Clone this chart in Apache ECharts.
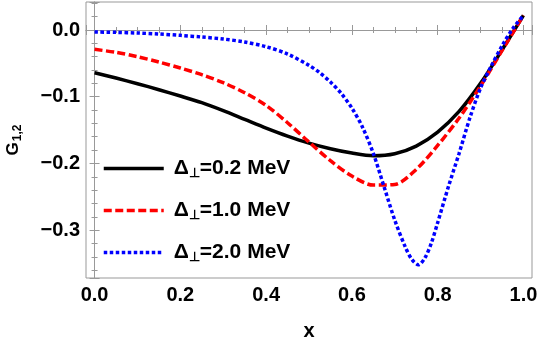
<!DOCTYPE html>
<html>
<head>
<meta charset="utf-8">
<script src="https://cdn.jsdelivr.net/npm/echarts@6/dist/echarts.min.js"></script>
<style>
  html, body { margin: 0; padding: 0; background: #fff; }
  #chart { width: 542px; height: 342px; }
</style>
</head>
<body>
<div id="chart"></div>
<script>
// x grid shared by the 0.2 and 1.0 MeV curves
const xMain = [0, 0.05, 0.1, 0.15, 0.2, 0.25, 0.3, 0.35, 0.4, 0.45, 0.5,
  0.55, 0.6, 0.65, 0.7, 0.75, 0.8, 0.85, 0.9, 0.95, 1.0];
const g02 = [-0.064, -0.072, -0.0805, -0.0895, -0.099, -0.109, -0.121, -0.134, -0.147, -0.159, -0.1695,
  -0.178, -0.1845, -0.1885, -0.1855, -0.174, -0.153, -0.122, -0.080, -0.030, 0.022];
const g10 = [-0.029, -0.0335, -0.040, -0.048, -0.057, -0.067, -0.079, -0.094, -0.113, -0.139, -0.168,
  -0.196, -0.219, -0.2325, -0.2315, -0.209, -0.173, -0.132, -0.084, -0.031, 0.022];

// finer grid for the 2.0 MeV curve (sharp dip)
const xBlue = [0, 0.05, 0.1, 0.15, 0.2, 0.25, 0.3, 0.35, 0.4, 0.45, 0.5, 0.525, 0.55, 0.575,
  0.6, 0.625, 0.65, 0.675, 0.7, 0.725, 0.74, 0.755, 0.77, 0.785, 0.8, 0.825, 0.85, 0.875,
  0.9, 0.925, 0.95, 0.975, 1.0];
const g20 = [-0.003, -0.0035, -0.0045, -0.006, -0.008, -0.0105, -0.0135, -0.018, -0.025, -0.036, -0.053, -0.064, -0.078, -0.095,
  -0.117, -0.146, -0.185, -0.235, -0.285, -0.326, -0.344, -0.352, -0.342, -0.320, -0.289, -0.235, -0.185, -0.132,
  -0.087, -0.054, -0.024, 0.002, 0.022];

const names = ['Δ⊥=0.2 MeV', 'Δ⊥=1.0 MeV', 'Δ⊥=2.0 MeV'];

const font = 'Liberation Sans, Arial, sans-serif';
const frame = '#999';

function pairs(xs, ys) { return xs.map((x, i) => [x, ys[i]]); }
function fmt(v) { return v.toFixed(1).replace('-', '\u2212'); }

function axisCommon(showLabels) {
  return {
    type: 'value',
    axisLine: { show: true, lineStyle: { color: frame, width: 1 } },
    axisTick: { show: true, inside: true, length: 5, lineStyle: { color: frame } },
    minorTick: { show: true, length: 3, lineStyle: { color: frame } },
    splitLine: { show: false },
    axisLabel: {
      show: showLabels, showMinLabel: false, showMaxLabel: false,
      color: '#000', fontFamily: font, fontWeight: 'bold', fontSize: 20,
      formatter: fmt
    }
  };
}

const xMin = -0.02, xMax = 1.02, yMin = -0.3718, yMax = 0.042;

const xAxes = [
  Object.assign(axisCommon(true), {
    min: xMin, max: xMax, position: 'bottom',
    name: 'x', nameLocation: 'middle', nameGap: 43,
    nameTextStyle: { color: '#000', fontFamily: font, fontWeight: 'bold', fontSize: 20 }
  }),
  Object.assign(axisCommon(false), { min: xMin, max: xMax, position: 'top' })
];
xAxes[0].axisLabel.margin = 7;
xAxes[0].minorTick.splitNumber = 4;
xAxes[1].minorTick.splitNumber = 4;

const yAxes = [
  Object.assign(axisCommon(true), {
    min: yMin, max: yMax, position: 'left',
    name: '{g|G}{s|1,2}', nameLocation: 'middle', nameGap: 62, nameRotate: 90,
    nameTextStyle: {
      color: '#000', fontFamily: font,
      rich: {
        g: { fontSize: 17, fontFamily: font, fontWeight: 'bold', color: '#000' },
        s: { fontSize: 12, fontFamily: font, fontWeight: 'bold', color: '#000', padding: [9, 0, 0, 1] }
      }
    }
  }),
  Object.assign(axisCommon(false), { min: yMin, max: yMax, position: 'right' })
];
yAxes[0].axisLabel.margin = 6;
yAxes[0].minorTick.splitNumber = 5;
yAxes[1].minorTick.splitNumber = 5;

const styles = [
  { color: '#000000', width: 3.5, type: 'solid' },
  { color: '#ff0000', width: 3.5, type: [8, 3.5] },
  { color: '#0000ff', width: 3.5, type: [3.5, 2.5] }
];
const datas = [pairs(xMain, g02), pairs(xMain, g10), pairs(xBlue, g20)];

const chart = echarts.init(document.getElementById('chart'));
chart.setOption({
  animation: false,
  grid: {
    left: 86, top: 2, right: 10, bottom: 64,
    outerBoundsMode: 'none', containLabel: false,
    show: true, borderColor: frame, borderWidth: 1
  },
  xAxis: xAxes,
  yAxis: yAxes,
  legend: {
    orient: 'vertical', left: 102, top: 158, padding: 0,
    itemWidth: 60, itemHeight: 20, itemGap: 20,
    itemStyle: { opacity: 0 },
    lineStyle: { width: 3.5 },
    formatter: n => '{d|Δ}{s|⊥}{e|' + n.slice(2) + '}',
    textStyle: {
      color: '#000', fontFamily: font, fontWeight: 'bold', fontSize: 21,
      rich: {
        d: { fontSize: 21, fontWeight: 'bold', fontFamily: font, padding: [0, 0, 0, 5] },
        s: { fontSize: 13, fontWeight: 'bold', fontFamily: font, padding: [10, 0, 0, 0] },
        e: { fontSize: 21, fontWeight: 'bold', fontFamily: font }
      }
    },
    data: names
  },
  series: datas.map((d, i) => ({
    name: names[i],
    type: 'line',
    data: d,
    smooth: 0.3,
    symbol: 'none',
    lineStyle: styles[i],
    itemStyle: { color: styles[i].color }
  }))
});
</script>
</body>
</html>
